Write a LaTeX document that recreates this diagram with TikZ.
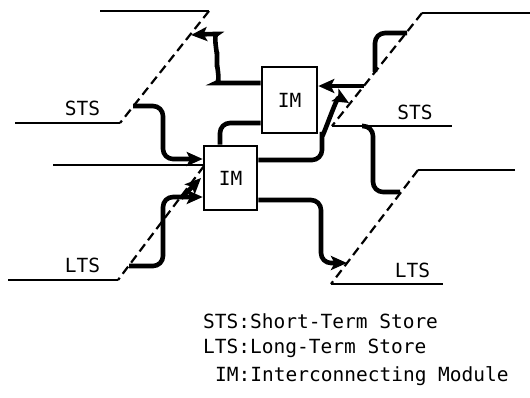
\documentclass[tikz,border=0pt]{standalone}
\usepackage{fontspec}
\newfontfamily\monofont{DejaVu Sans Mono}
\usetikzlibrary{arrows.meta}
\begin{document}
\begin{tikzpicture}[x=1pt,y=-1pt,
  memline/.style={line width=2.2pt},
  dashline/.style={line width=2.2pt, dash pattern=on 9pt off 5pt},
  flow/.style={line width=4.6pt, rounded corners=10pt},
  tip/.style={-{Stealth[length=16pt,width=14pt,inset=3.5pt]}},
  imbox/.style={draw, line width=2.6pt, inner sep=0pt, font=\monofont\fontsize{19.5}{20}\selectfont},
  lab/.style={font=\monofont\fontsize{19.5}{20}\selectfont, inner sep=0pt, anchor=base}
]
\fill[white] (0,0) rectangle (530,397);
\useasboundingbox (0,0) rectangle (530,397);

% helper coordinates (levels)
\coordinate (y83) at (0,83);
\coordinate (y86) at (0,86);
\coordinate (y123) at (0,123);
\coordinate (y159) at (0,159);
\coordinate (y160) at (0,160);
\coordinate (y165) at (0,165);
\coordinate (y197) at (0,197);
\coordinate (y200) at (0,200);
\coordinate (x220) at (220,0);

% interconnecting modules
\node[imbox, minimum width=55pt, minimum height=66pt] (up) at (289.5,100) {IM};
\node[imbox, minimum width=53pt, minimum height=64pt] (low) at (230.5,178) {IM};

% STS left
\draw[memline] (100,11) -- (209,11);
\draw[dashline] (209,11) -- (120,123);
\draw[memline] (120,123) -- (15,123);
% LTS left
\draw[memline] (53,165) -- (low.west |- y165);
\draw[dashline] (204,166) -- (118,280);
\draw[memline] (118,280) -- (8,280);
% STS right
\draw[memline] (530,13) -- (422,13);
\draw[dashline] (422,13) -- (332,126);
\draw[memline] (332,126) -- (452,126);
% LTS right
\draw[memline] (515,170) -- (418,170);
\draw[dashline] (418,170) -- (331,284);
\draw[memline] (331,284) -- (443,284);

% connectors
\coordinate (stsLout) at (133,106);
\draw[flow,tip] (stsLout) -- (163,106) -- (163,159) -- (low.west |- y159);

\coordinate (stsLin) at (191,35);
\draw[flow,tip] (up.west |- y83) -- (226,83) to[out=180,in=90] (217,73) -- (217,46) to[out=-90,in=0] (207,34) -- (stsLin);

\draw[flow] (low.north -| x220) |- (up.west |- y123);

\coordinate (stsRout) at (364,86);
\draw[flow,tip] (stsRout) -- (up.east |- y86);

\coordinate (loopA) at (375,72);
\coordinate (loopB) at (407,33);
\draw[flow] (loopA) -- (375,33) -- (loopB);

\coordinate (stsRin) at (349,103);
\draw[flow,tip] (low.east |- y160) -- (322,160) -- (322,126) to[out=-90,in=150] (stsRin);

\coordinate (ltsRin) at (347,263);
\draw[flow,tip] (low.east |- y200) -- (321,200) -- (321,263) -- (ltsRin);

\coordinate (stsRbot) at (362,126);
\coordinate (ltsRtop) at (400,192);
\draw[flow] (stsRbot) -- (373,126) -- (373,192) -- (ltsRtop);

\coordinate (ltsLout) at (129,266);
\draw[flow,tip] (ltsLout) -- (163,266) -- (163,197) -- (low.west |- y197);
\coordinate (br) at (181,198);
\coordinate (brend) at (201,178);
\draw[flow,tip] (br) -- (brend);

% labels
\node[lab] (s1) at (82.5,115) {STS};
\node[lab] (s2) at (415,119) {STS};
\node[lab] (t1) at (82.5,272) {LTS};
\node[lab] (t2) at (412.5,277) {LTS};

% legend
\node[lab, anchor=base west] (l1) at (203,328) {STS:Short-Term Store};
\node[lab, anchor=base west] (l2) at (203,353) {LTS:Long-Term Store};
\node[lab, anchor=base west] (l3) at (215,381) {IM:Interconnecting Module};
\end{tikzpicture}
\end{document}
